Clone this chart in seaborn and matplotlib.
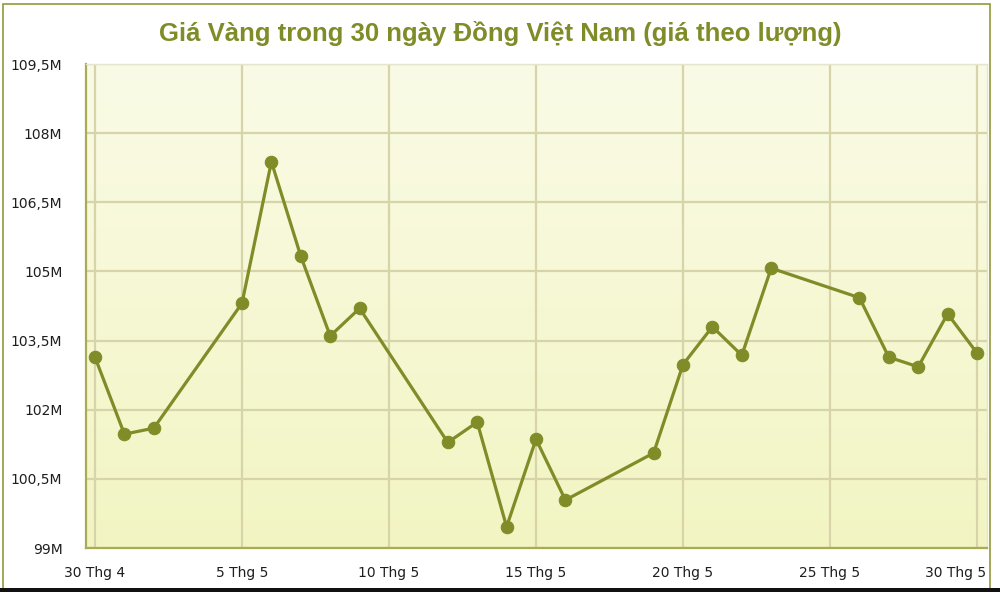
import numpy as np
import pandas as pd
import matplotlib
matplotlib.use("Agg")
import matplotlib.pyplot as plt
import matplotlib.transforms as mtransforms
from matplotlib.patches import Rectangle
import seaborn as sns

# gia vang (trieu dong / luong), doc tu bieu do
dates = [
    "2025-04-30", "2025-05-01", "2025-05-02", "2025-05-05", "2025-05-06",
    "2025-05-07", "2025-05-08", "2025-05-09", "2025-05-12", "2025-05-13",
    "2025-05-14", "2025-05-15", "2025-05-16", "2025-05-19", "2025-05-20",
    "2025-05-21", "2025-05-22", "2025-05-23", "2025-05-26", "2025-05-27",
    "2025-05-28", "2025-05-29", "2025-05-30",
]
prices = [
    103.14, 101.47, 101.60, 104.31, 107.38,
    105.33, 103.60, 104.20, 101.29, 101.73,
    99.46, 101.36, 100.04, 101.06, 102.98,
    103.80, 103.18, 105.07, 104.43, 103.14,
    102.93, 104.08, 103.23,
]
x_ticks = [0, 5, 10, 15, 20, 25, 30]
x_labels = ["30 Thg 4", "5 Thg 5", "10 Thg 5", "15 Thg 5",
            "20 Thg 5", "25 Thg 5", "30 Thg 5"]
y_ticks = [99, 100.5, 102, 103.5, 105, 106.5, 108, 109.5]
y_labels = ["99M", "100,5M", "102M", "103,5M", "105M", "106,5M", "108M", "109,5M"]
title = "Giá Vàng trong 30 ngày Đồng Việt Nam (giá theo lượng)"

OLIVE = "#7f8c28"

sns.set_style("white")
plt.rcParams["font.family"] = ["DejaVu Sans"]

df = pd.DataFrame({"date": pd.to_datetime(dates), "price": prices})
df["day"] = (df["date"] - df["date"].iloc[0]).dt.days

fig = plt.figure(figsize=(10, 5.92), dpi=100)
ax = fig.add_axes([0.086, 44 / 592, 0.901, 484 / 592])

# nen gradient: nhat o tren, dam hon o duoi
grad = np.linspace(0, 1, 256).reshape(-1, 1)
cmap = matplotlib.colors.LinearSegmentedColormap.from_list(
    "bg", ["#fafbe6", "#f2f5c2"])
ax.imshow(grad, aspect="auto", cmap=cmap, extent=[0, 1, 0, 1],
          origin="upper", transform=ax.transAxes, zorder=0)

sns.lineplot(data=df, x="day", y="price", ax=ax, color=OLIVE,
             linewidth=2.3, marker="o", markersize=9,
             markeredgecolor=OLIVE, zorder=3)

ax.set_xlim(-0.306, 30.34)
ax.set_ylim(99, 109.5)
ax.set_xticks(x_ticks)
ax.set_xticklabels(x_labels)
ax.set_yticks(y_ticks)
ax.set_yticklabels(y_labels)
ax.set_xlabel("")
ax.set_ylabel("")

ax.grid(True, color="#d7d4aa", linewidth=1.6, zorder=1)
ax.set_axisbelow(True)

ax.tick_params(axis="x", length=8, width=1, color="#c9d6f0",
               labelsize=10, labelcolor="#1e1e1e", pad=5, direction="out")
ax.tick_params(axis="y", length=0, labelsize=10, labelcolor="#1e1e1e", pad=17)

# nhan cuoi cung dich sang trai de nam trong khung
last = ax.get_xticklabels()[-1]
last.set_horizontalalignment("right")
last.set_transform(last.get_transform() + mtransforms.ScaledTranslation(
    9 / 100, 0, fig.dpi_scale_trans))

for side in ["left", "bottom"]:
    ax.spines[side].set_color("#a9ab55")
    ax.spines[side].set_linewidth(1.6)
for side in ["top", "right"]:
    ax.spines[side].set_color("#e6e6cf")
    ax.spines[side].set_linewidth(1.0)

fig.text(0.5, 1 - 33 / 592, title, ha="center", va="center",
         fontsize=18.5, fontweight="bold", color=OLIVE,
         family=["Liberation Sans", "DejaVu Sans"])

# khung vien va dai den phia duoi
fig.add_artist(Rectangle((3 / 1000, 0.0), 987 / 1000, 1 - 4 / 592,
                         transform=fig.transFigure, fill=False,
                         edgecolor="#949a3a", linewidth=1.2))
fig.add_artist(Rectangle((0, 0), 1, 4 / 592, transform=fig.transFigure,
                         facecolor="#111111", edgecolor="none"))

fig.savefig("out.png", dpi=100)
